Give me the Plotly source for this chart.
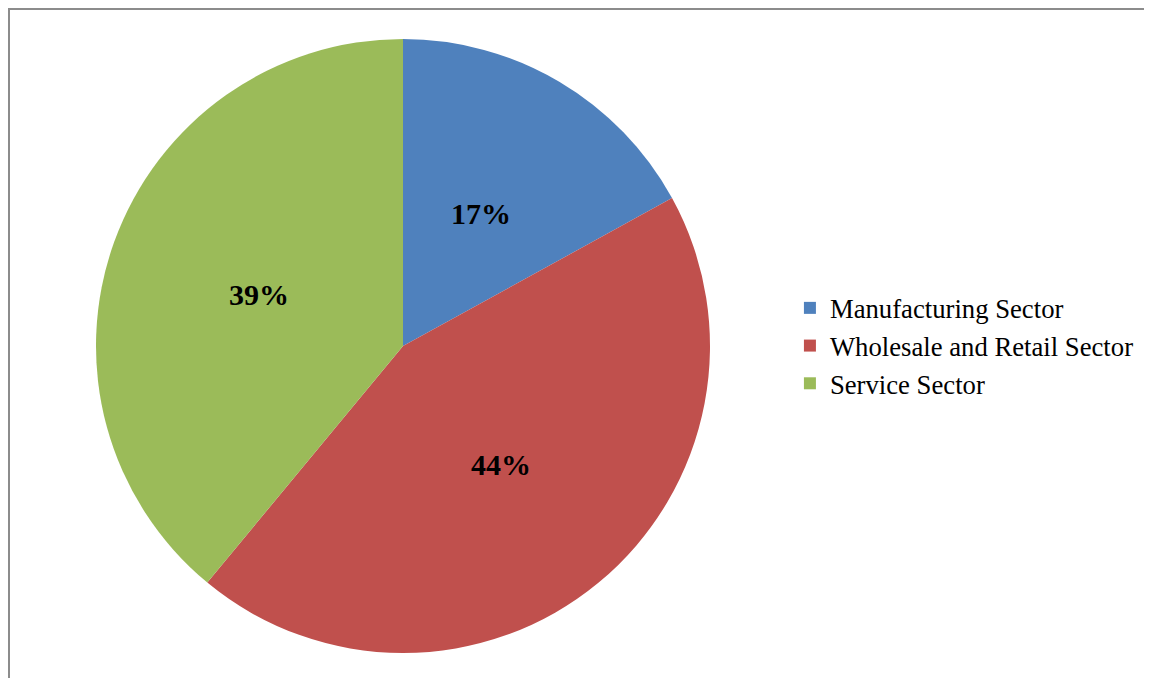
import math
import plotly.graph_objects as go

categories = ["Manufacturing Sector", "Wholesale and Retail Sector", "Service Sector"]
values = [17, 44, 39]
colors = ["#4F81BD", "#C0504D", "#9BBB59"]

W, H = 1144, 670
cx, cy, r = 395, 338, 307

dom_x = [(cx - r) / W, (cx + r) / W]
dom_y = [1 - (cy + r) / H, 1 - (cy - r) / H]

fig = go.Figure(go.Pie(
    labels=categories,
    values=values,
    sort=False,
    direction="clockwise",
    rotation=0,
    marker=dict(colors=colors, line=dict(width=0)),
    textinfo="none",
    domain=dict(x=dom_x, y=dom_y),
    hoverinfo="label+percent",
))

# percentage labels placed at the mid-angle of each slice, half a radius out
total = sum(values)
cum = 0
for v in values:
    mid = (cum + v / 2) / total * 2 * math.pi
    cum += v
    px = cx + 0.5 * r * math.sin(mid)
    py = cy - 0.5 * r * math.cos(mid)
    fig.add_annotation(
        x=px / W, y=1 - py / H, xref="paper", yref="paper",
        text=f"{round(v / total * 100)}%", showarrow=False,
        font=dict(family="Liberation Serif", size=30, color="black", weight="bold"),
        xanchor="center", yanchor="middle",
    )

# chart area border (left and top edges visible)
fig.add_shape(type="line", xref="paper", yref="paper",
              x0=1 / W, x1=1 / W, y0=0, y1=1,
              line=dict(color="#8C8C8C", width=2))
fig.add_shape(type="line", xref="paper", yref="paper",
              x0=0, x1=1, y0=1 - 1 / H, y1=1 - 1 / H,
              line=dict(color="#8C8C8C", width=2))

fig.update_layout(
    width=W, height=H,
    margin=dict(l=0, r=0, t=0, b=0),
    paper_bgcolor="white",
    plot_bgcolor="white",
    showlegend=True,
    legend=dict(x=0.6835, y=0.4955, xanchor="left", yanchor="middle",
                font=dict(family="Liberation Serif", size=26.7, color="black"),
                bgcolor="rgba(0,0,0,0)", itemwidth=30),
)

fig.write_html(
    "out.html",
    post_script="document.documentElement.style.overflow='hidden';document.body.style.overflow='hidden';",
)
